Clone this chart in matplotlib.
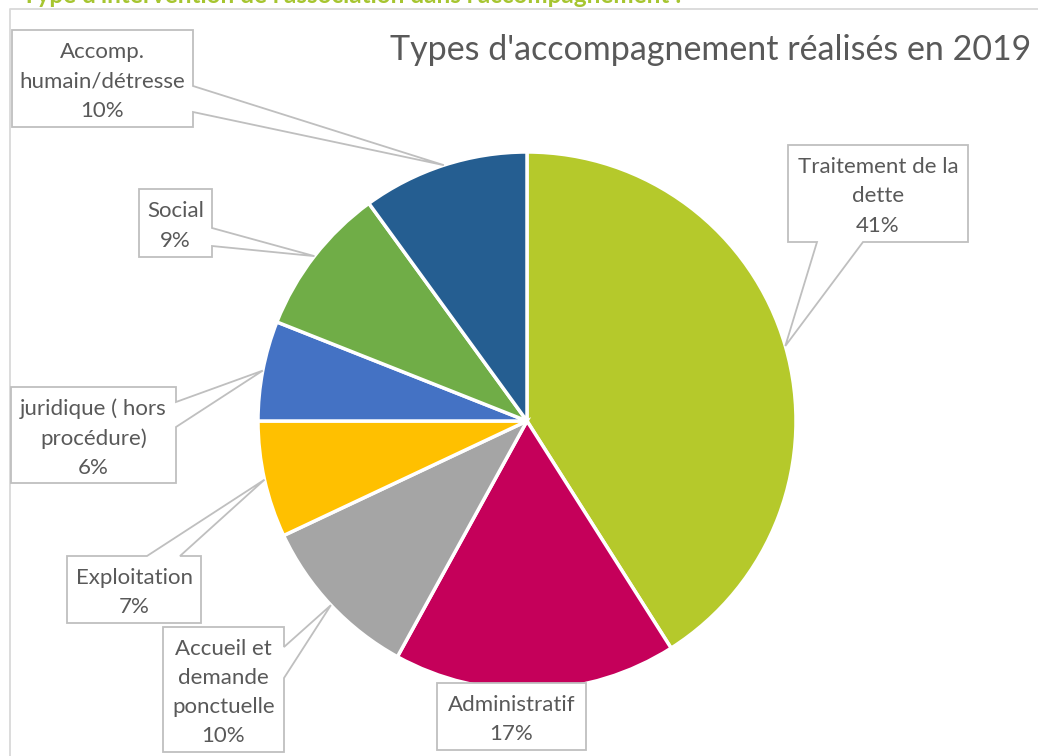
import matplotlib.pyplot as plt
from matplotlib.patches import Polygon
import numpy as np

# données du graphique
categories = ['Traitement de la\ndette', 'Administratif', 'Accueil et\ndemande\nponctuelle',
              'Exploitation', 'juridique ( hors\nprocédure)', 'Social', 'Accomp.\nhumain/détresse']
values = [41, 17, 10, 7, 6, 9, 10]
colors = ['#B5C92B', '#C5005A', '#A5A5A5', '#FFC000', '#4472C4', '#70AD47', '#255E91']
title = "Types d'accompagnement réalisés en 2019"
header = "Type d'intervention de l'association dans l'accompagnement :"

# mise en page (pixels de l'image) : boîtes des étiquettes
W, H = 1038, 756
CX, CY, R = 527, 421, 269
# (gauche, haut, droite, bas), côté du pointeur, points d'attache
boxes = [
    ((788, 145, 968, 242), 'bottom', (817, 863)),
    ((437, 683, 586, 750), None, None),
    ((163, 627, 284, 752), 'right', (647, 678)),
    ((67, 556, 201, 623), 'top', (147, 180)),
    ((11, 387, 176, 483), 'right', (402, 427)),
    ((139, 189, 212, 257), 'right', (228, 246)),
    ((12, 30, 193, 127), 'right', (86, 112)),
]

plt.rcParams['font.family'] = ['Lato', 'DejaVu Sans']
fig = plt.figure(figsize=(W / 100, H / 100), dpi=100)
ax = fig.add_axes([0, 0, 1, 1])


def px(x, y):
    # pixels -> coordonnées des données (rayon du camembert = 1)
    return ((x - CX) / R, (CY - y) / R)


ax.pie(values, colors=colors, startangle=90, counterclock=False, radius=1,
       wedgeprops=dict(edgecolor='white', linewidth=2.5))
ax.set_xlim(px(0, 0)[0], px(W, 0)[0])
ax.set_ylim(px(0, H)[1], px(0, 0)[1])
ax.set_aspect('auto')
ax.set_axis_off()

# cadre du graphique
ax.plot([px(10, H)[0], px(10, 9)[0], px(W, 9)[0]],
        [px(10, H)[1], px(10, 9)[1], px(W, 9)[1]],
        color='#D9D9D9', lw=1.3, clip_on=False)

# étiquettes en bulles
total = sum(values)
cum = np.cumsum([0] + values[:-1])
for i in range(len(values)):
    theta = np.deg2rad(90 - 360 * (cum[i] + values[i] / 2) / total)
    tip = (np.cos(theta), np.sin(theta))
    (l, t, r, b), side, att = boxes[i]
    if side == 'top':
        verts = [px(l, t), px(att[0], t), tip, px(att[1], t), px(r, t), px(r, b), px(l, b)]
    elif side == 'right':
        verts = [px(l, t), px(r, t), px(r, att[0]), tip, px(r, att[1]), px(r, b), px(l, b)]
    elif side == 'bottom':
        verts = [px(l, t), px(r, t), px(r, b), px(att[1], b), tip, px(att[0], b), px(l, b)]
    else:
        verts = [px(l, t), px(r, t), px(r, b), px(l, b)]
    ax.add_patch(Polygon(verts, closed=True, facecolor='white', edgecolor='#BFBFBF',
                         lw=1.3, zorder=3))
    cx, cy = px((l + r) / 2, (t + b) / 2 + 3)
    ax.text(cx, cy, f"{categories[i]}\n{values[i]}%", ha='center', va='center',
            fontsize=16, color='#595959', linespacing=1.58, zorder=4)

ax.text(*px(711, 50), title, ha='center', va='center', fontsize=24.5, color='#595959')
ax.text(*px(22, 3), header, ha='left', va='baseline', fontsize=17.5, fontweight='bold',
        color='#A6C530', clip_on=False)

fig.savefig('out.png', dpi=100)
